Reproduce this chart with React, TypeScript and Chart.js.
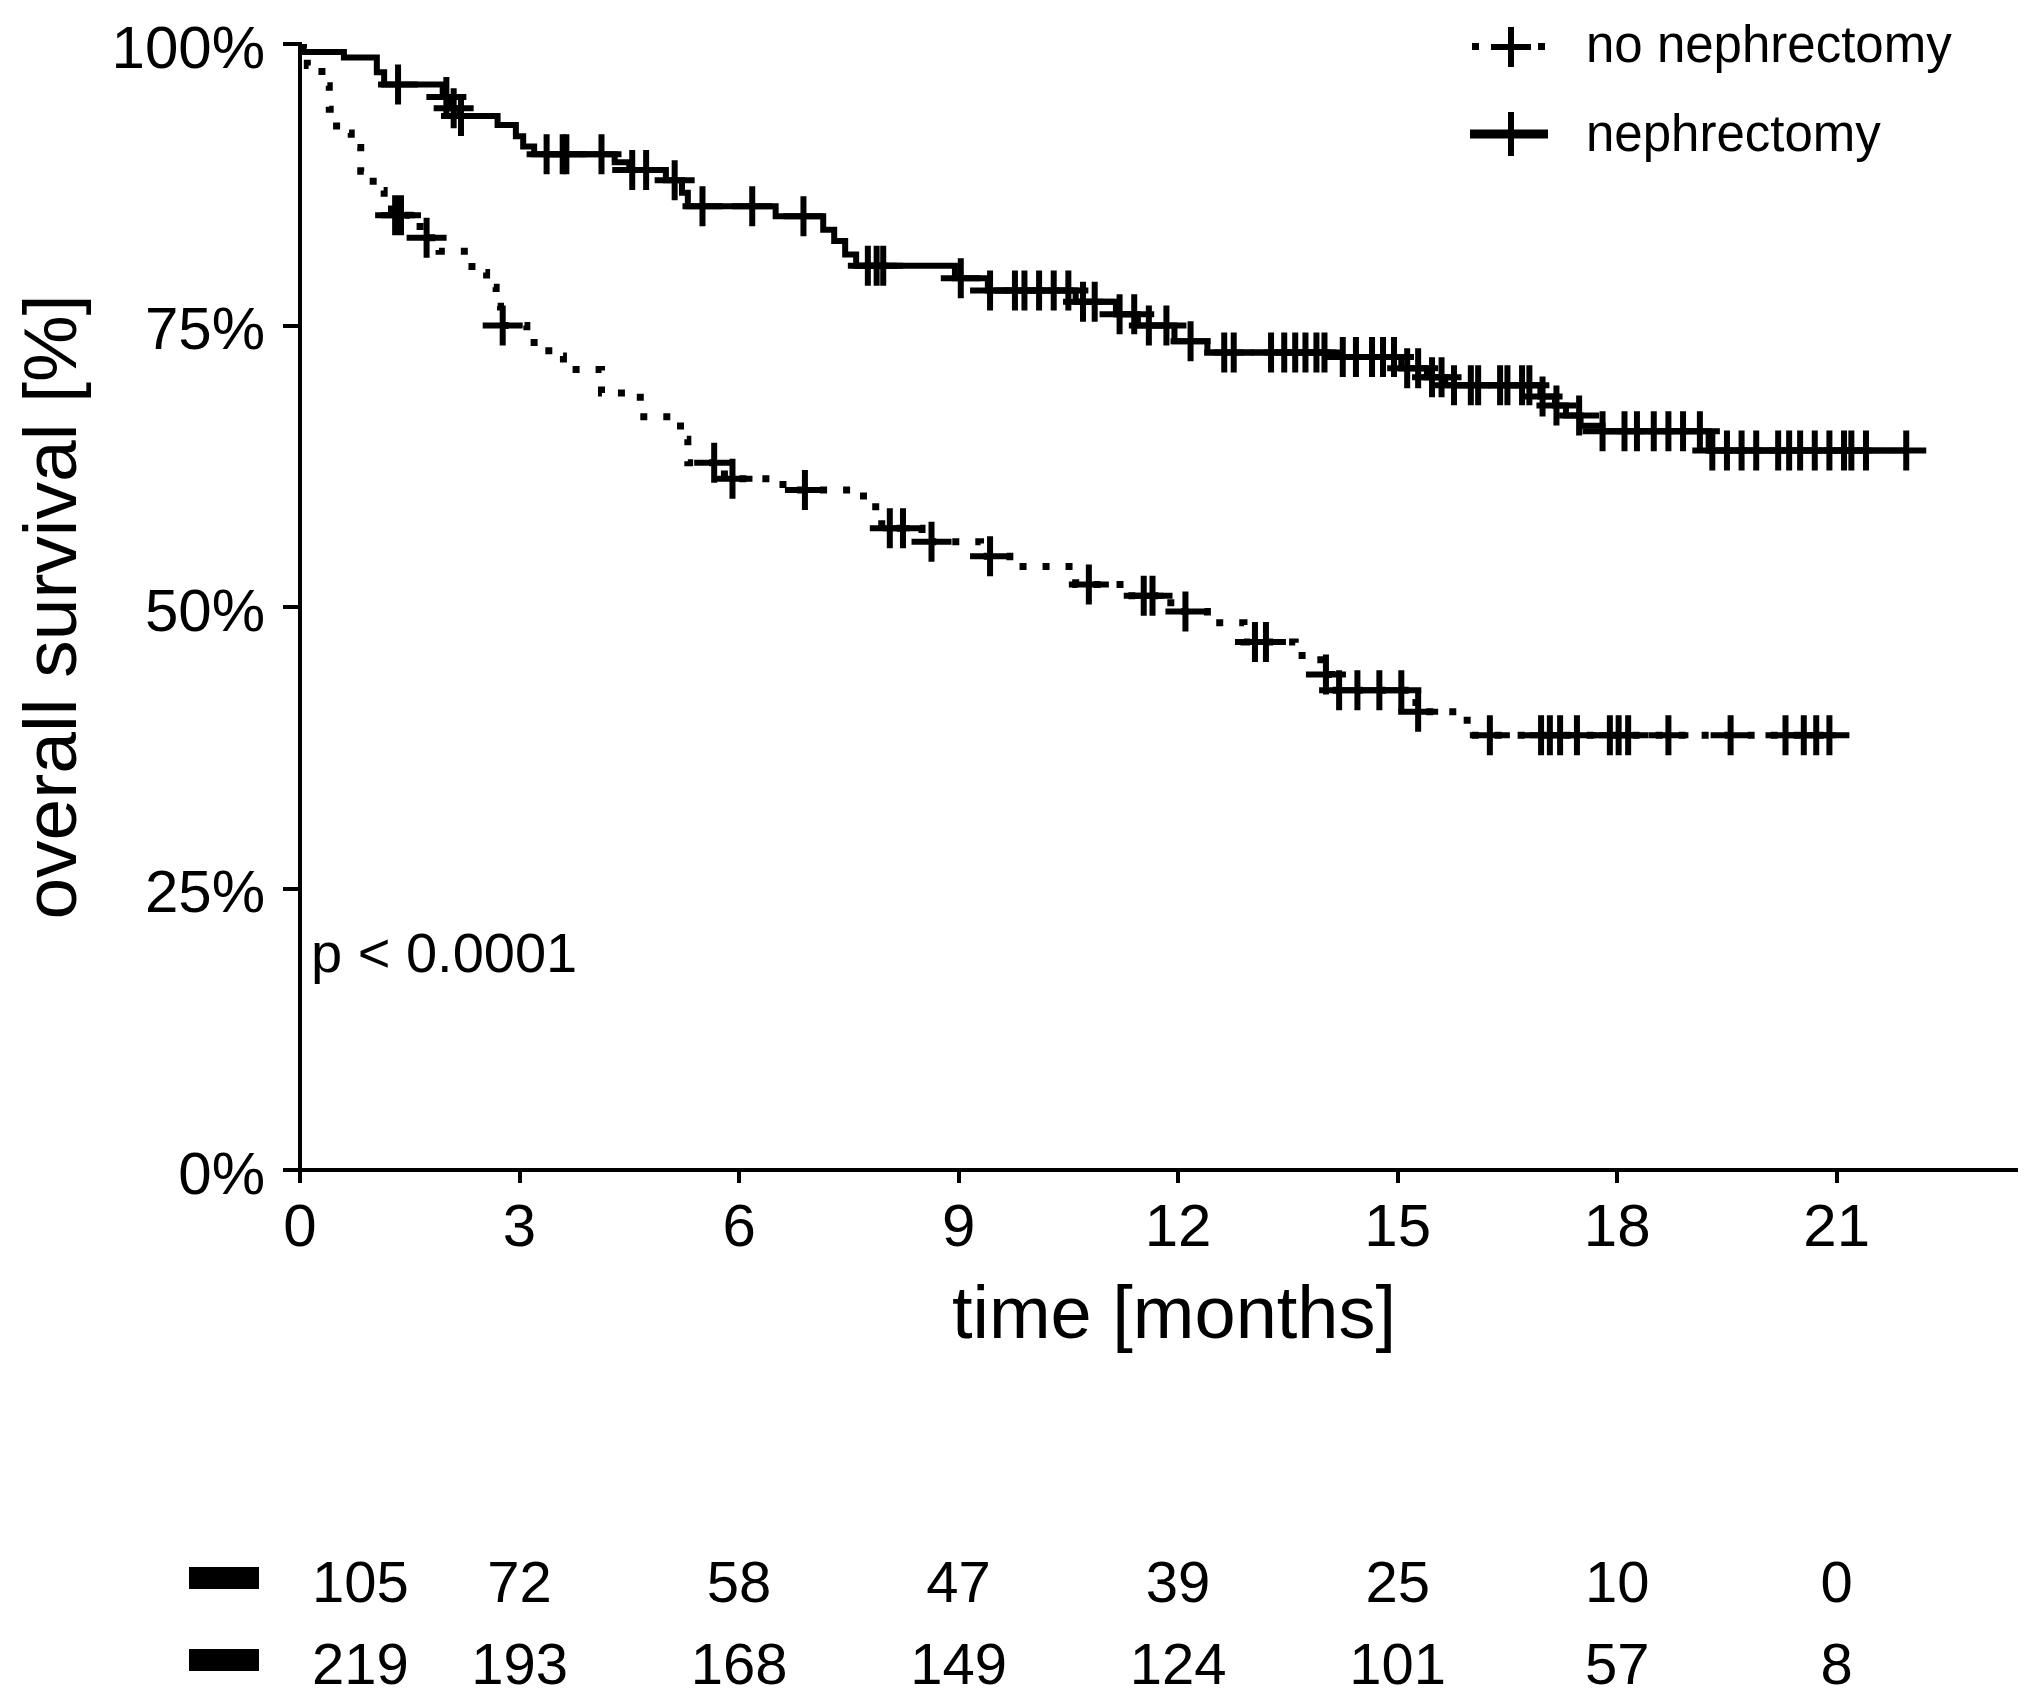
import React, { useEffect, useRef } from 'react';
import { Chart, registerables } from 'chart.js';

Chart.register(...registerables);

// ---- Data ----
const xTickValues = [0, 3, 6, 9, 12, 15, 18, 21];
const yTickValues = [0, 25, 50, 75, 100];

const seriesLabels = ['no nephrectomy', 'nephrectomy'];

// Kaplan-Meier steps: at time t the survival drops to s (percent)
const nephTimes = [0, 0.05, 0.6, 1.05, 1.15, 1.95, 2.05, 2.18, 2.7, 2.95, 3.05, 3.2, 4.3, 4.5, 5.0, 5.22, 5.3, 6.5, 7.15, 7.3, 7.45, 7.6, 8.95, 9.4, 10.6, 11.15, 11.45, 11.95, 12.4, 14.05, 15.05, 15.4, 15.65, 16.95, 17.15, 17.3, 17.5, 17.8, 19.25, 21.95];
const nephSurv = [100, 99.3, 98.8, 97.5, 96.4, 95.3, 94.3, 93.6, 92.8, 91.8, 90.9, 90.2, 89.5, 88.8, 87.9, 86.8, 85.6, 84.7, 83.5, 82.5, 81.3, 80.3, 79.2, 78.1, 77.1, 76.0, 75.0, 73.6, 72.6, 72.2, 71.2, 70.4, 69.7, 68.7, 67.9, 67.0, 66.1, 65.6, 63.9, 63.9];
const nephCensor = [1.34, 2.0, 2.1, 2.2, 3.37, 3.59, 3.64, 4.12, 4.54, 4.73, 5.12, 5.5, 6.18, 6.88, 7.76, 7.88, 7.97, 9.03, 9.43, 9.77, 9.9, 10.1, 10.3, 10.5, 10.7, 10.86, 11.2, 11.4, 11.6, 11.84, 12.17, 12.63, 12.76, 13.27, 13.45, 13.6, 13.74, 13.89, 14.0, 14.25, 14.43, 14.65, 14.8, 14.95, 15.13, 15.28, 15.47, 15.6, 15.77, 16.0, 16.1, 16.4, 16.5, 16.7, 16.8, 16.98, 17.17, 17.48, 17.8, 18.1, 18.27, 18.5, 18.7, 18.9, 19.13, 19.3, 19.5, 19.7, 19.9, 20.2, 20.35, 20.5, 20.7, 20.9, 21.1, 21.2, 21.4, 21.95];

const noNephTimes = [0, 0.1, 0.3, 0.4, 0.5, 0.7, 0.83, 1.0, 1.15, 1.25, 1.5, 1.7, 1.9, 2.35, 2.55, 2.68, 2.74, 3.1, 3.4, 3.6, 4.12, 4.65, 5.2, 5.3, 5.8, 6.6, 7.7, 7.95, 8.5, 9.3, 9.7, 10.6, 11.3, 11.9, 12.4, 12.9, 13.6, 13.95, 14.1, 15.25, 15.95, 20.9];
const noNephSurv = [100, 98.1, 96.3, 94.2, 92.1, 90.8, 88.7, 87.0, 85.8, 84.8, 83.8, 82.8, 81.6, 79.7, 78.4, 76.7, 75.0, 73.5, 72.3, 71.1, 69.0, 66.9, 64.9, 62.8, 61.4, 60.4, 58.9, 57.0, 55.8, 54.5, 53.6, 52.0, 51.0, 49.6, 48.6, 46.9, 45.7, 44.0, 42.6, 40.7, 38.6, 38.6];
const noNephCensor = [1.3, 1.38, 1.73, 2.77, 5.66, 5.91, 6.9, 8.06, 8.24, 8.63, 9.43, 10.78, 11.53, 11.65, 12.1, 13.05, 13.2, 14.02, 14.2, 14.45, 14.75, 15.05, 15.28, 16.26, 16.96, 17.08, 17.22, 17.45, 17.9, 18.02, 18.15, 18.7, 19.55, 20.3, 20.55, 20.72, 20.9];

// Numbers at risk
const riskTimes = [0, 3, 6, 9, 12, 15, 18, 21];
const riskNoNeph = [105, 72, 58, 47, 39, 25, 10, 0];
const riskNeph = [219, 193, 168, 149, 124, 101, 57, 8];

const pValueText = 'p < 0.0001';
const xTitle = 'time [months]';
const yTitle = 'overall survival [%]';

const FONT = '"Liberation Sans", Arial, Helvetica, sans-serif';

function survAt(times: number[], surv: number[], t: number): number {
  let s = surv[0];
  for (let i = 0; i < times.length; i++) {
    if (times[i] <= t) s = surv[i];
    else break;
  }
  return s;
}

function drawCross(ctx: CanvasRenderingContext2D, x: number, y: number, r: number, w: number) {
  ctx.save();
  ctx.lineWidth = w;
  ctx.lineCap = 'butt';
  ctx.beginPath();
  ctx.moveTo(x - r, y);
  ctx.lineTo(x + r, y);
  ctx.moveTo(x, y - r);
  ctx.lineTo(x, y + r);
  ctx.stroke();
  ctx.restore();
}

export default function App() {
  const ref = useRef<HTMLCanvasElement | null>(null);

  useEffect(() => {
    if (!ref.current) return;

    const overlay = {
      id: 'overlay',
      afterDraw(chart: any) {
        const ctx: CanvasRenderingContext2D = chart.ctx;
        const xs = chart.scales.x;
        const area = chart.chartArea;
        ctx.save();
        ctx.fillStyle = '#000';
        ctx.strokeStyle = '#000';

        // x-axis title
        ctx.font = `74px ${FONT}`;
        ctx.textAlign = 'center';
        ctx.textBaseline = 'alphabetic';
        ctx.fillText(xTitle, (area.left + area.right) / 2 + 16, 1338);

        // p-value
        ctx.font = `56px ${FONT}`;
        ctx.textAlign = 'left';
        ctx.fillText(pValueText, area.left + 11, 972);

        // Legend
        const symX = 1511;
        const textX = 1586;
        const row1 = 47;
        const row2 = 134;
        // row 1: dotted with cross
        ctx.fillRect(symX - 39, row1 - 4, 7, 7);
        ctx.fillRect(symX + 27, row1 - 4, 7, 7);
        drawCross(ctx, symX, row1, 20, 6);
        // row 2: solid with cross
        ctx.save();
        ctx.lineWidth = 9;
        ctx.beginPath();
        ctx.moveTo(symX - 41, row2);
        ctx.lineTo(symX + 37, row2);
        ctx.stroke();
        ctx.restore();
        drawCross(ctx, symX, row2, 22, 6);
        ctx.font = `51px ${FONT}`;
        ctx.textAlign = 'left';
        ctx.fillText(seriesLabels[0], textX, row1 + 15);
        ctx.fillText(seriesLabels[1], textX, row2 + 17);

        // Risk table
        const rowBase = [1602, 1684];
        const rows = [riskNoNeph, riskNeph];
        ctx.font = `58px ${FONT}`;
        rows.forEach((vals, r) => {
          ctx.fillRect(189, rowBase[r] - 35, 70, 22);
          vals.forEach((v, i) => {
            const px = xs.getPixelForValue(riskTimes[i]);
            if (i === 0) {
              ctx.textAlign = 'left';
              ctx.fillText(String(v), px + 12, rowBase[r]);
            } else {
              ctx.textAlign = 'center';
              ctx.fillText(String(v), px, rowBase[r]);
            }
          });
        });
        ctx.restore();
      },
    };

    const chart = new Chart(ref.current, {
      type: 'line',
      data: {
        datasets: [
          {
            label: seriesLabels[1],
            data: nephTimes.map((t, i) => ({ x: t, y: nephSurv[i] })),
            stepped: true,
            borderColor: '#000',
            borderWidth: 6,
            pointRadius: 0,
            fill: false,
            borderCapStyle: 'butt',
          },
          {
            label: seriesLabels[0],
            data: noNephTimes.map((t, i) => ({ x: t, y: noNephSurv[i] })),
            stepped: true,
            borderColor: '#000',
            borderWidth: 7,
            borderDash: [7, 16],
            pointRadius: 0,
            fill: false,
            borderCapStyle: 'butt',
          },
          {
            label: seriesLabels[1] + ' censored',
            data: nephCensor.map((t) => ({ x: t, y: survAt(nephTimes, nephSurv, t) })),
            showLine: false,
            pointStyle: 'cross',
            pointRadius: 20,
            pointBorderWidth: 6,
            pointBorderColor: '#000',
            pointBackgroundColor: '#000',
          },
          {
            label: seriesLabels[0] + ' censored',
            data: noNephCensor.map((t) => ({ x: t, y: survAt(noNephTimes, noNephSurv, t) })),
            showLine: false,
            pointStyle: 'cross',
            pointRadius: 20,
            pointBorderWidth: 6,
            pointBorderColor: '#000',
            pointBackgroundColor: '#000',
          },
        ],
      } as any,
      options: {
        responsive: false,
        animation: false,
        devicePixelRatio: 1,
        events: [],
        layout: { padding: { left: 10, right: 24, top: 44, bottom: 347 } },
        plugins: {
          legend: { display: false },
          tooltip: { enabled: false },
        },
        scales: {
          x: {
            type: 'linear',
            min: 0,
            max: 23.45,
            afterBuildTicks: (s: any) => {
              s.ticks = xTickValues.map((v) => ({ value: v }));
            },
            afterFit: (s: any) => {
              s.height = 186;
              s.paddingLeft = 0;
              s.paddingRight = 0;
            },
            grid: {
              display: true,
              drawOnChartArea: false,
              drawTicks: true,
              tickLength: 13,
              color: '#000',
              lineWidth: 4,
            },
            border: { display: true, color: '#000', width: 4 },
            ticks: {
              color: '#000',
              font: { family: FONT, size: 60 },
              padding: 10,
              maxRotation: 0,
              autoSkip: false,
            },
            title: { display: false },
          },
          y: {
            type: 'linear',
            min: 0,
            max: 100,
            afterBuildTicks: (s: any) => {
              s.ticks = yTickValues.map((v) => ({ value: v }));
            },
            afterFit: (s: any) => {
              s.width = 290;
              s.paddingTop = 0;
              s.paddingBottom = 0;
            },
            grid: {
              display: true,
              drawOnChartArea: false,
              drawTicks: true,
              tickLength: 17,
              color: '#000',
              lineWidth: 4,
            },
            border: { display: true, color: '#000', width: 4 },
            ticks: {
              color: '#000',
              font: { family: FONT, size: 60 },
              padding: 18,
              labelOffset: 7,
              autoSkip: false,
              callback: (v: any) => `${v}%`,
            },
            title: {
              display: true,
              text: yTitle,
              color: '#000',
              font: { family: FONT, size: 75 },
              padding: { top: 0, bottom: 0 },
            },
          },
        },
      } as any,
      plugins: [overlay],
    });

    return () => chart.destroy();
  }, []);

  return (
    <div style={{ position: 'absolute', left: 0, top: 0, width: 2042, height: 1703, background: '#fff' }}>
      <canvas ref={ref} width={2042} height={1703} style={{ display: 'block', width: 2042, height: 1703 }} />
    </div>
  );
}
